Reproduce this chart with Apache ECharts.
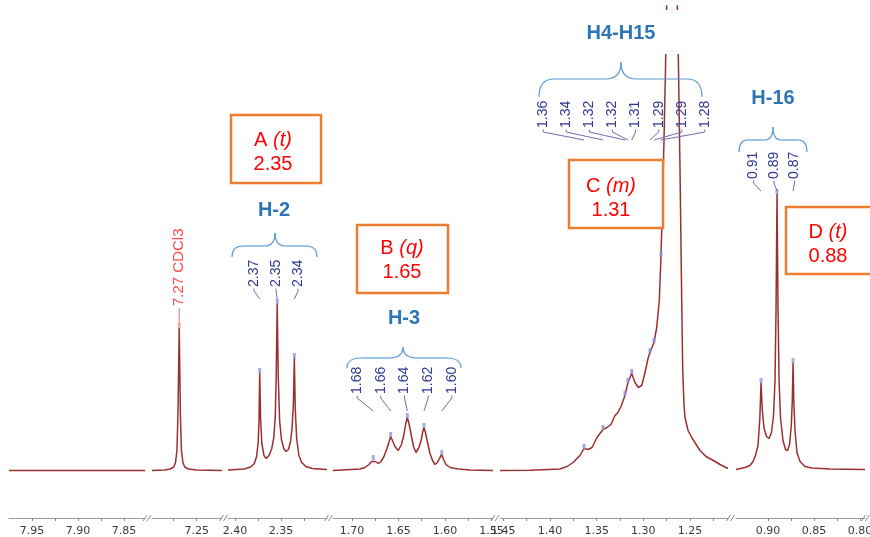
<!DOCTYPE html>
<html>
<head>
<meta charset="utf-8">
<script src="https://cdn.jsdelivr.net/npm/echarts@6/dist/echarts.min.js"></script>
<style>
  html, body { margin: 0; padding: 0; background: #ffffff; }
  #chart { width: 870px; height: 537px; }
</style>
</head>
<body>
<div id="chart"></div>
<script>
// ---- data ---------------------------------------------------------------
// chemical-shift window of each axis panel (ppm, high -> low)
const windows = [
  [7.975, 7.8272], [7.2986, 7.2225], [2.4076, 2.3000],
  [1.7204, 1.5484], [1.4536, 1.2093], [0.9348, 0.7946]
];
// tick marks and tick labels of each panel (ppm)
const tickValues = [
  [7.95, 7.925, 7.90, 7.875, 7.85],
  [7.275, 7.25],
  [2.40, 2.375, 2.35, 2.325],
  [1.70, 1.675, 1.65, 1.625, 1.60, 1.575, 1.55],
  [1.45, 1.425, 1.40, 1.375, 1.35, 1.325, 1.30, 1.275, 1.25, 1.225],
  [0.90, 0.875, 0.85, 0.825, 0.80]
];
const tickLabels = [
  [7.95, 7.90, 7.85],
  [7.25],
  [2.40, 2.35],
  [1.70, 1.65, 1.60, 1.55],
  [1.45, 1.40, 1.35, 1.30, 1.25],
  [0.90, 0.85, 0.80]
];

// 1H spectrum traces, [ppm, intensity (a.u.)]
const traceAromatic = [[7.975, 0], [7.90, 0], [7.8272, 0]];
const traceSolvent = [
  [7.2986, 0], [7.2850, 0.5], [7.2790, 1.5], [7.2750, 3.5], [7.2730, 8], [7.2715, 20],
  [7.2704, 55], [7.2690, 143], [7.2677, 55], [7.2666, 20], [7.2650, 8], [7.2630, 3.5],
  [7.2590, 1.5], [7.2500, 0.5], [7.2225, 0]
];
const traceH2 = [
  [2.4076, 0.5], [2.3900, 1.5], [2.3830, 3.5], [2.3790, 7], [2.3765, 14], [2.3748, 28],
  [2.3739, 50], [2.3731, 98], [2.3722, 52], [2.3708, 27], [2.3685, 15], [2.3660, 12],
  [2.3630, 15], [2.3600, 22], [2.3578, 33], [2.3562, 55], [2.3552, 95], [2.3541, 167],
  [2.3530, 95], [2.3515, 50], [2.3495, 31], [2.3470, 22], [2.3445, 19], [2.3420, 21],
  [2.3398, 28], [2.3380, 42], [2.3366, 65], [2.3355, 113], [2.3345, 62], [2.3330, 32],
  [2.3305, 15], [2.3275, 8], [2.3230, 4], [2.3160, 2], [2.3000, 1]
];
const traceH3 = [
  [1.7204, 0], [1.6914, 1.5], [1.6860, 3], [1.6817, 6], [1.6790, 9], [1.6771, 11],
  [1.6747, 9], [1.6717, 7], [1.6688, 9], [1.6656, 14], [1.6624, 22], [1.6600, 29],
  [1.6584, 34], [1.6565, 30], [1.6538, 24], [1.6502, 20], [1.6468, 26], [1.6441, 36],
  [1.6422, 47], [1.6405, 53], [1.6387, 47], [1.6360, 34], [1.6339, 24], [1.6312, 18],
  [1.6280, 23], [1.6255, 31], [1.6239, 39], [1.6226, 43], [1.6210, 38], [1.6188, 28],
  [1.6161, 17], [1.6134, 10], [1.6108, 6], [1.6081, 8], [1.6054, 13], [1.6035, 16],
  [1.6016, 11], [1.5989, 6], [1.5946, 3], [1.5860, 1.5], [1.5731, 0.5], [1.5484, 0]
];
const traceChain = [
  [1.4536, 0], [1.4215, 0.3], [1.3893, 1.5], [1.3818, 4], [1.3754, 8], [1.3679, 15],
  [1.3636, 22], [1.3593, 21], [1.3550, 23], [1.3497, 33], [1.3465, 37], [1.3432, 41],
  [1.3390, 43], [1.3347, 46], [1.3304, 55], [1.3272, 58], [1.3240, 64], [1.3197, 75],
  [1.3165, 88], [1.3125, 97], [1.3090, 88], [1.3054, 83], [1.3018, 85], [1.2982, 98],
  [1.2950, 112], [1.2929, 118], [1.2886, 128], [1.2857, 143], [1.2829, 170], [1.2811, 215],
  [1.2795, 265], [1.2779, 330], [1.2763, 400], [1.2747, 480], [1.2720, 700], [1.2693, 900],
  [1.2666, 700], [1.2639, 480], [1.2623, 400], [1.2607, 300], [1.2589, 170], [1.2578, 100],
  [1.2564, 65], [1.2554, 53], [1.2521, 40], [1.2482, 33], [1.2393, 20], [1.2329, 14],
  [1.2250, 10], [1.2178, 6], [1.2093, 2]
];
const traceH16 = [
  [0.9348, 1], [0.9250, 3], [0.9196, 5], [0.9163, 9], [0.9136, 15], [0.9109, 25],
  [0.9089, 52], [0.9076, 88], [0.9062, 60], [0.9043, 42], [0.9016, 34], [0.8989, 32],
  [0.8962, 38], [0.8940, 55], [0.8924, 90], [0.8913, 160], [0.8902, 277], [0.8891, 160],
  [0.8880, 90], [0.8864, 52], [0.8837, 30], [0.8810, 21], [0.8788, 20], [0.8766, 26],
  [0.8747, 45], [0.8736, 70], [0.8728, 108], [0.8720, 70], [0.8707, 40], [0.8685, 18],
  [0.8652, 9], [0.8598, 4], [0.8522, 2.5], [0.8326, 1.5], [0.7946, 1]
];
const traces = [traceAromatic, traceSolvent, traceH2, traceH3, traceChain, traceH16];

// picked peaks (ppm)
const peaksSolvent = [7.2690];
const peaksH2 = [2.3731, 2.3541, 2.3355];
const peaksH3 = [1.6771, 1.6584, 1.6405, 1.6226, 1.6035];
const peaksChain = [1.3636, 1.3432, 1.3197, 1.3165, 1.3125, 1.2929, 1.2886, 1.2811];
const peaksH16 = [0.9076, 0.8902, 0.8728];

// assignments
const groupTitles = ['H-2', 'H-3', 'H4-H15', 'H-16'];
const multipletNames = ['A', 'B', 'C', 'D'];
const multipletTypes = ['t', 'q', 'm', 't'];
const multipletShifts = [2.35, 1.65, 1.31, 0.88];
const solventName = 'CDCl3';

// ---- layout -------------------------------------------------------------
const panelPx = [[9, 145], [152, 222], [228, 327], [333, 493], [500, 728], [736, 865]];
const plotTop = 6, axisY = 518, baselineY = 470.5;
const SPEC = '#9b2f2f';
const PEAKLBL = '#2f3792';
const LEADER = '#6a6fb4';
const BRACE = '#5b9bd5';
const TITLE = '#2e75b6';
const LBLFONT = '14px "Liberation Sans", Arial, sans-serif';

const chart = echarts.init(document.getElementById('chart'), null, { renderer: 'canvas' });

const grids = [], xAxes = [], yAxes = [], series = [];
panelPx.forEach((p, i) => {
  grids.push({ left: p[0], width: p[1] - p[0], top: plotTop, height: axisY - plotTop,
               containLabel: false, outerBoundsMode: 'none' });
  xAxes.push({
    type: 'value', gridIndex: i, inverse: true,
    min: windows[i][1], max: windows[i][0],
    splitLine: { show: false },
    axisLine: { show: true, onZero: false, lineStyle: { color: '#9a9a9a', width: 1 } },
    axisTick: { show: true, length: 3, customValues: tickValues[i], lineStyle: { color: '#8a8a8a' } },
    axisLabel: {
      show: true, customValues: tickLabels[i], margin: 8,
      color: '#3a3a3a', fontFamily: 'DejaVu Sans', fontSize: 11,
      formatter: v => v.toFixed(2)
    },
    minorTick: { show: false }
  });
  yAxes.push({ type: 'value', gridIndex: i, show: false,
               min: -(axisY - baselineY), max: baselineY - plotTop });
  series.push({
    type: 'line', xAxisIndex: i, yAxisIndex: i, data: traces[i],
    showSymbol: false, symbol: 'none', clip: true, smooth: false,
    lineStyle: { color: SPEC, width: 1.5 }, z: 3, silent: true
  });
});

// intensity of a trace at a given shift
function heightAt(trace, ppm) {
  for (let k = 0; k < trace.length - 1; k++) {
    const a = trace[k], b = trace[k + 1];
    if ((ppm <= a[0] && ppm >= b[0])) {
      const t = (a[0] - ppm) / (a[0] - b[0]);
      return a[1] + t * (b[1] - a[1]);
    }
  }
  return 0;
}

const peakSets = [
  { peaks: peaksSolvent, grid: 1, color: '#f3a0a0' },
  { peaks: peaksH2, grid: 2, color: '#9298de' },
  { peaks: peaksH3, grid: 3, color: '#9298de' },
  { peaks: peaksChain, grid: 4, color: '#8a90da' },
  { peaks: peaksH16, grid: 5, color: '#9298de' }
];
peakSets.forEach(s => {
  series.push({
    type: 'scatter', xAxisIndex: s.grid, yAxisIndex: s.grid,
    data: s.peaks.map(p => [p, heightAt(traces[s.grid], p)]),
    symbol: 'rect', symbolSize: [3, 5], symbolOffset: [0, -2],
    itemStyle: { color: s.color }, z: 4, silent: true, clip: true
  });
});

chart.setOption({
  animation: false,
  backgroundColor: '#ffffff',
  grid: grids, xAxis: xAxes, yAxis: yAxes, series: series
});

// ---- annotations ----------------------------------------------------------
const gfx = [];
const px = (g, ppm, h) => chart.convertToPixel({ gridIndex: g }, [ppm, h || 0]);

// mask above the tall methylene envelope (under its hidden label)
(function () {
  let top = traceChain[0];
  traceChain.forEach(d => { if (d[1] > top[1]) top = d; });
  const x = px(4, top[0])[0];
  gfx.push({ type: 'rect', z: 20, shape: { x: x - 13, y: 10, width: 26, height: 44 },
             style: { fill: '#ffffff' }, silent: true });
})();

// axis break marks
const breakXs = [];
for (let i = 0; i < panelPx.length - 1; i++) breakXs.push((panelPx[i][1] + panelPx[i + 1][0]) / 2);
breakXs.push(867);
breakXs.forEach(cx => {
  [-4, 0].forEach(dx => {
    gfx.push({ type: 'line', z: 20, silent: true,
      shape: { x1: cx + dx - 1.5, y1: axisY + 3, x2: cx + dx + 2.5, y2: axisY - 3 },
      style: { stroke: '#8a8a8a', lineWidth: 1 } });
  });
});

// peak labels with leader lines
const labelGroups = [
  { peaks: peaksH2, grid: 2, cx: 276, gap: 22, bottom: 287, lead: 12 },
  { peaks: peaksH3, grid: 3, cx: 404.5, gap: 23.7, bottom: 394, lead: 17 },
  { peaks: peaksChain, grid: 4, cx: 624, gap: 23.1, bottom: 128, lead: 12 },
  { peaks: peaksH16, grid: 5, cx: 774, gap: 20.5, bottom: 179, lead: 12 }
];
labelGroups.forEach(g => {
  const n = g.peaks.length;
  g.peaks.forEach((p, k) => {
    const lx = g.cx + (k - (n - 1) / 2) * g.gap;
    const pxX = px(g.grid, p)[0];
    gfx.push({ type: 'text', z: 20, silent: true, x: lx, y: g.bottom, rotation: Math.PI / 2,
      style: { text: p.toFixed(2), fill: PEAKLBL, font: LBLFONT,
               align: 'left', verticalAlign: 'middle' } });
    gfx.push({ type: 'polyline', z: 20, silent: true,
      shape: { points: [[lx, g.bottom + 1.5], [lx, g.bottom + 4], [pxX, g.bottom + g.lead]] },
      style: { stroke: LEADER, lineWidth: 1, fill: null } });
  });
});

// solvent label
(function () {
  const p = peaksSolvent[0];
  const pt = px(1, p, heightAt(traceSolvent, p));
  gfx.push({ type: 'text', z: 20, silent: true, x: pt[0], y: 306, rotation: Math.PI / 2,
    style: { text: p.toFixed(2) + ' ' + solventName, fill: '#ff4a4a',
             font: '15px "Liberation Sans", Arial, sans-serif', align: 'left', verticalAlign: 'middle' } });
  gfx.push({ type: 'line', z: 20, silent: true,
    shape: { x1: pt[0], y1: 308, x2: pt[0], y2: pt[1] - 3 },
    style: { stroke: '#f07070', lineWidth: 1 } });
})();

// braces and group titles
const braces = [
  { x1: 232, x2: 317, xm: 275, yTip: 233, yMid: 246, yEnd: 257 },
  { x1: 347, x2: 461, xm: 403, yTip: 347, yMid: 358, yEnd: 368 },
  { x1: 539, x2: 702, xm: 621, yTip: 62, yMid: 79, yEnd: 97 },
  { x1: 739, x2: 807, xm: 773, yTip: 127, yMid: 140, yEnd: 152 }
];
const titlePos = [[274, 210], [404, 318], [621, 33], [773, 98]];
function curve(x1, y1, cx, cy, x2, y2) {
  gfx.push({ type: 'bezierCurve', z: 20, silent: true,
    shape: { x1: x1, y1: y1, cpx1: cx, cpy1: cy, x2: x2, y2: y2 },
    style: { stroke: BRACE, lineWidth: 1.2, fill: null } });
}
function seg(x1, y1, x2, y2) {
  gfx.push({ type: 'line', z: 20, silent: true, shape: { x1, y1, x2, y2 },
    style: { stroke: BRACE, lineWidth: 1.2 } });
}
braces.forEach((b, i) => {
  const r = Math.min(15, (b.x2 - b.x1) / 8);
  curve(b.x1, b.yEnd, b.x1, b.yMid, b.x1 + r, b.yMid);
  seg(b.x1 + r, b.yMid, b.xm - r, b.yMid);
  curve(b.xm - r, b.yMid, b.xm, b.yMid, b.xm, b.yTip);
  curve(b.xm, b.yTip, b.xm, b.yMid, b.xm + r, b.yMid);
  seg(b.xm + r, b.yMid, b.x2 - r, b.yMid);
  curve(b.x2 - r, b.yMid, b.x2, b.yMid, b.x2, b.yEnd);
  gfx.push({ type: 'text', z: 20, silent: true, x: titlePos[i][0], y: titlePos[i][1],
    style: { text: groupTitles[i], fill: TITLE, font: 'bold 20px "Liberation Sans", Arial, sans-serif',
             align: 'center', verticalAlign: 'middle' } });
});

// multiplet boxes
const boxes = [
  { x: 231, y: 115, w: 90, h: 68, tx: 273, ty: 152 },
  { x: 357, y: 225, w: 91, h: 68, tx: 402, ty: 260 },
  { x: 569, y: 160, w: 94, h: 68, tx: 611, ty: 198 },
  { x: 786, y: 207, w: 92, h: 67, tx: 828, ty: 244 }
];
const boxFont = { fontSize: 20, fontFamily: '"Liberation Sans", Arial, sans-serif', fill: '#ff0000', lineHeight: 24 };
boxes.forEach((b, i) => {
  gfx.push({ type: 'rect', z: 21, silent: true, shape: { x: b.x, y: b.y, width: b.w, height: b.h },
    style: { fill: '#ffffff', stroke: '#ed7d31', lineWidth: 2.5 } });
  gfx.push({ type: 'text', z: 22, silent: true, x: b.tx, y: b.ty,
    style: {
      text: '{n|' + multipletNames[i] + ' }{i|(' + multipletTypes[i] + ')}\n{n|' + multipletShifts[i].toFixed(2) + '}',
      align: 'center', verticalAlign: 'middle',
      rich: { n: Object.assign({}, boxFont), i: Object.assign({ fontStyle: 'italic' }, boxFont) }
    } });
});

chart.setOption({ graphic: { elements: gfx } });
</script>
</body>
</html>
